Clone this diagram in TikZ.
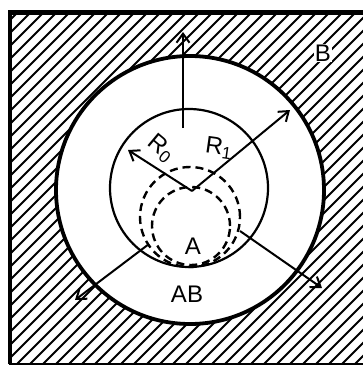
\documentclass[tikz,border=0pt]{standalone}
\usepackage{fontspec}
\setmainfont{Liberation Sans}
\usetikzlibrary{arrows.meta}
\begin{document}
\begin{tikzpicture}[x=1pt,y=-1pt,
  hatch/.style={line width=2pt},
  arr/.style={line width=2pt,-{Straight Barb[length=9pt,width=13pt,line width=2pt]}},
  lbl/.style={font=\fontsize{24}{24}\selectfont, inner sep=0pt},
  dashcirc/.style={line width=2.4pt, dash pattern=on 8pt off 5pt}]
\useasboundingbox (0,0) rectangle (362,367);
% hatching
\begin{scope}
  \clip (10,12.5) rectangle (366,364);
  \foreach \x in {-360,-347,...,375} \draw[hatch] (\x,364) -- ++(352,-352);
\end{scope}
\fill[white] (190,190) circle (134pt);
% frame
\draw[line width=2pt] (10,12.5) rectangle (366,364);
\draw[line width=4.5pt] (10,364) -- (10,12.5) -- (366,12.5);
% circles
\draw[line width=3.8pt] (190,190) circle (134pt);
\draw[line width=2.2pt] (189,188) circle (79pt);
\draw[dashcirc] (190,217) circle (50pt);
\draw[dashcirc] (191,226) circle (39pt);
% arrow points
\coordinate (c) at (192,191);
\coordinate (r0) at (128,150);
\coordinate (r1) at (290,110);
\coordinate (upS) at (183,128);
\coordinate (upE) at (183,32);
\coordinate (drS) at (240,231);
\coordinate (drE) at (322,288);
\coordinate (dlS) at (149,244);
\coordinate (dlE) at (75,300);
\draw[arr] (c) -- (r0);
\draw[arr] (c) -- (r1);
\draw[arr] (upS) -- (upE);
\draw[arr] (drS) -- (drE);
\draw[arr] (dlS) -- (dlE);
% labels
\node[lbl, rotate=-40] (lR0) at (161,148) {R\textsubscript{\fontsize{17}{17}\selectfont 0}};
\node[lbl, rotate=-8] (lR1) at (219,148) {R\textsubscript{\fontsize{17}{17}\selectfont 1}};
\node[lbl] (lA) at (193,246) {A};
\node[lbl] (lAB) at (187,294) {AB};
\node[lbl, fill=white, inner sep=1pt] (lB) at (323,53) {B};
\end{tikzpicture}
\end{document}
